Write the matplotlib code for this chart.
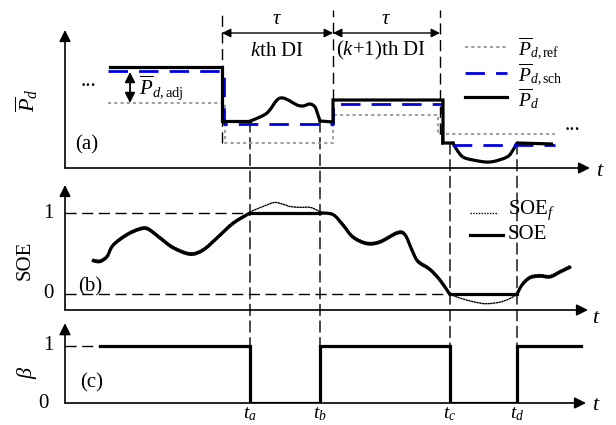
import matplotlib
matplotlib.use('Agg')
import matplotlib.pyplot as plt
from matplotlib.patches import ConnectionPatch, PathPatch
from matplotlib.path import Path

plt.rcParams['font.family'] = 'Liberation Serif'
plt.rcParams['mathtext.fontset'] = 'custom'
plt.rcParams['mathtext.rm'] = 'Liberation Serif'
plt.rcParams['mathtext.it'] = 'Liberation Serif:italic'
plt.rcParams['mathtext.bf'] = 'Liberation Serif:bold'

# ---- time marks ----
t_di = [15.7, 26.8, 37.5]          # DI boundaries
t_a, t_b, t_c, t_d = 18.5, 25.5, 38.5, 45.2
t_labels = [r'$t_a$', r'$t_b$', r'$t_c$', r'$t_d$']

# ---- panel (a): power ----
pd_t = [4.5, 15.7, 15.7, 18.5, 18.8, 20.2, 21.2, 21.8, 22.5, 23.2, 23.8, 24.5,
        25.0, 25.3, 25.5, 26.8, 26.8, 37.8, 37.8, 38.5, 38.8, 39.2, 39.8, 40.8,
        42.5, 44.2, 44.8, 45.2, 48.8]
pd_v = [10.1, 10.1, 4.7, 4.7, 4.8, 5.5, 6.8, 7.0, 6.7, 6.3, 6.2, 6.4,
        6.1, 5.3, 4.7, 4.6, 6.8, 6.8, 2.5, 2.5, 2.5, 1.8, 1.1, 0.8,
        0.6, 1.1, 1.8, 2.5, 2.4]
sch_t = [4.3, 15.9, 15.9, 26.8, 26.8, 37.7, 37.7, 49.0]
sch_v = [9.7, 9.7, 4.4, 4.4, 6.4, 6.4, 2.3, 2.3]
ref_t = [4.3, 16.0, 16.0, 26.8, 26.8, 37.3, 37.3, 49.0]
ref_v = [6.5, 6.5, 2.5, 2.5, 5.3, 5.3, 3.4, 3.4]

# ---- panel (b): SOE ----
soe_t = [2.8, 3.5, 4.2, 4.8, 6.2, 7.5, 8.3, 9.5, 10.8, 12.5, 13.8, 15.2, 16.8,
         18.5, 25.5, 26.8, 27.8, 28.8, 30.2, 31.5, 33.2, 34.0, 34.7, 35.3, 36.5,
         37.5, 38.4, 38.5, 45.2, 45.7, 46.5, 47.5, 48.5, 49.5, 50.5]
soe_v = [0.41, 0.40, 0.46, 0.60, 0.73, 0.80, 0.80, 0.69, 0.57, 0.49, 0.54, 0.69, 0.87,
         1.0, 1.0, 0.98, 0.85, 0.70, 0.62, 0.64, 0.75, 0.73, 0.54, 0.40, 0.30,
         0.17, 0.01, 0.0, 0.0, 0.11, 0.20, 0.22, 0.21, 0.27, 0.33]
soef_t = [2.8, 3.5, 4.2, 4.8, 6.2, 7.5, 8.3, 9.5, 10.8, 12.5, 13.8, 15.2, 16.8,
          18.5, 19.0, 20.0, 21.0, 22.0, 22.5, 23.5, 24.5, 25.3, 25.5, 26.8, 27.8,
          28.8, 30.2, 31.5, 33.2, 34.0, 34.7, 35.3, 36.5, 37.5, 38.4, 38.5, 39.5,
          41.0, 42.2, 43.8, 45.2, 45.7, 46.5, 47.5, 48.5, 49.5, 50.5]
soef_v = [0.43, 0.42, 0.48, 0.62, 0.75, 0.82, 0.82, 0.71, 0.59, 0.51, 0.56, 0.71, 0.89,
          1.01, 1.04, 1.09, 1.13, 1.10, 1.08, 1.07, 1.07, 1.03, 1.01, 0.99, 0.87,
          0.72, 0.64, 0.66, 0.77, 0.75, 0.56, 0.42, 0.32, 0.19, 0.03, 0.0, -0.05,
          -0.10, -0.12, -0.09, 0.0, 0.13, 0.22, 0.24, 0.23, 0.29, 0.35]

# ---- panel (c): beta ----
beta_t = [3.5, 18.5, 18.5, 25.5, 25.5, 38.5, 38.5, 45.2, 45.2, 51.6]
beta_v = [1, 1, 0, 0, 1, 1, 0, 0, 1, 1]


def smooth(ax, x, y, **kw):
    # Catmull-Rom through the read points, drawn as cubic Bezier pieces
    pts = list(zip(x, y))
    verts = [pts[0]]
    codes = [Path.MOVETO]
    for i in range(len(pts) - 1):
        p0 = pts[max(i - 1, 0)]
        p1 = pts[i]
        p2 = pts[i + 1]
        p3 = pts[min(i + 2, len(pts) - 1)]
        c1 = (p1[0] + (p2[0] - p0[0]) / 6, p1[1] + (p2[1] - p0[1]) / 6)
        c2 = (p2[0] - (p3[0] - p1[0]) / 6, p2[1] - (p3[1] - p1[1]) / 6)
        verts += [c1, c2, p2]
        codes += [Path.CURVE4] * 3
    patch = PathPatch(Path(verts, codes), fill=False, capstyle='round',
                      joinstyle='round', **kw)
    ax.add_patch(patch)


fig = plt.figure(figsize=(6.16, 4.25), dpi=100)
W, H = 616.0, 425.0
ax_a = fig.add_axes([65 / W, (H - 168) / H, 535 / W, 158 / H])
ax_b = fig.add_axes([65 / W, (H - 310) / H, 535 / W, 130 / H])
ax_c = fig.add_axes([65 / W, (H - 403) / H, 535 / W, 85 / H])

ax_a.set_ylim(0, 15.8)
ax_b.set_ylim(-16 / 81, (294 - 180) / 81)
ax_c.set_ylim(0, 85 / 57)
for ax in (ax_a, ax_b, ax_c):
    ax.set_xlim(0, 53.5)
    ax.axis('off')

arrow = dict(arrowstyle='-|>', color='k', lw=1.2, mutation_scale=17,
             shrinkA=0, shrinkB=0)
dash = (0, (8, 4))
fs = 15
thick = 2.3
blue = '#0000e6'
grey = '#a0a0a0'

# axes with arrows
y0b = -16 / 81
ax_a.annotate('', xy=(0, 13.8), xytext=(0, 0), arrowprops=arrow, annotation_clip=False)
ax_a.annotate('', xy=(52.5, 0), xytext=(0, 0), arrowprops=arrow, annotation_clip=False)
ax_a.text(53.5, -0.4, r'$t$', fontsize=fs + 1, ha='center', va='center')
ax_b.annotate('', xy=(0, 1.346), xytext=(0, y0b), arrowprops=arrow, annotation_clip=False)
ax_b.annotate('', xy=(52.3, y0b), xytext=(0, y0b), arrowprops=arrow, annotation_clip=False)
ax_b.text(53.1, y0b - 0.1, r'$t$', fontsize=fs + 1, ha='center', va='center')
ax_c.annotate('', xy=(0, 1.40), xytext=(0, 0), arrowprops=arrow, annotation_clip=False)
ax_c.annotate('', xy=(52.1, 0), xytext=(0, 0), arrowprops=arrow, annotation_clip=False)
ax_c.text(53.1, -0.05, r'$t$', fontsize=fs + 1, ha='center', va='center')

# panel (a)
ax_a.plot(ref_t, ref_v, color=grey, lw=1.5, ls=(0, (1.5, 1.5)))
ax_a.plot(sch_t, sch_v, color=blue, lw=2.0, ls=(0, (7, 4)))
ax_a.plot(pd_t[:4], pd_v[:4], color='k', lw=thick, solid_joinstyle='miter')
smooth(ax_a, pd_t[3:15], pd_v[3:15], color='k', lw=thick)
ax_a.plot(pd_t[14:21], pd_v[14:21], color='k', lw=thick, solid_joinstyle='miter')
smooth(ax_a, pd_t[20:28], pd_v[20:28], color='k', lw=thick)
ax_a.plot(pd_t[27:], pd_v[27:], color='k', lw=thick, solid_capstyle='butt')
tops = [2.5, 6.8, 3.4]
for t, yb in zip(t_di, tops):
    ax_a.plot([t, t], [yb, 15.8], color='k', lw=1, ls=dash, clip_on=False)
ann = dict(arrowstyle='<|-|>', color='k', lw=1, mutation_scale=13, shrinkA=0, shrinkB=0)
ax_a.annotate('', xy=(t_di[1], 13.5), xytext=(t_di[0], 13.5), arrowprops=ann)
ax_a.annotate('', xy=(t_di[2], 13.5), xytext=(t_di[1], 13.5), arrowprops=ann)
ax_a.text((t_di[0] + t_di[1]) / 2, 14.8, r'$\tau$', fontsize=fs, ha='center', va='center')
ax_a.text((t_di[1] + t_di[2]) / 2, 14.8, r'$\tau$', fontsize=fs, ha='center', va='center')
ax_a.text(21.2, 11.6, r'$k$th DI', fontsize=fs, ha='center', va='center')
ax_a.text(31.6, 11.8, r'($k$+1)th DI', fontsize=fs, ha='center', va='center')
ax_a.annotate('', xy=(6.5, 6.5), xytext=(6.5, 9.6),
              arrowprops=dict(arrowstyle='<|-|>', color='k', lw=1.3, mutation_scale=15,
                              shrinkA=0, shrinkB=0))
ax_a.text(7.4, 8.0, r'$\overline{P}_{d,\mathrm{adj}}$', fontsize=fs, ha='left', va='center')
ax_a.text(2.3, 8.2, '...', fontsize=fs, ha='center', va='baseline')
ax_a.text(50.8, 3.8, '...', fontsize=fs, ha='center', va='baseline')
ax_a.text(2.2, 2.3, '(a)', fontsize=fs, ha='center', va='center')
ax_a.text(-3.8, 6.8, r'$\overline{P}_d$', fontsize=fs + 1, ha='center', va='center', rotation=90)

# legend (a)
ax_a.plot([40.0, 44.2], [12.1, 12.1], color=grey, lw=1.5, ls=(0, (1.5, 1.5)))
ax_a.plot([40.0, 44.2], [9.5, 9.5], color=blue, lw=2.0, ls=(0, (7, 4)))
ax_a.plot([40.0, 44.2], [7.1, 7.1], color='k', lw=thick)
ax_a.text(45.3, 11.9, r'$\overline{P}_{d,\mathrm{ref}}$', fontsize=fs - 1, ha='left', va='center')
ax_a.text(45.3, 9.3, r'$\overline{P}_{d,\mathrm{sch}}$', fontsize=fs - 1, ha='left', va='center')
ax_a.text(45.3, 6.9, r'$\overline{P}_d$', fontsize=fs - 1, ha='left', va='center')

# panel (b)
ax_b.plot([0, t_b], [1, 1], color='k', lw=1, ls=dash)
ax_b.plot([0, t_d], [0, 0], color='k', lw=1, ls=dash)
smooth(ax_b, soef_t, soef_v, color='k', lw=1, ls=(0, (1, 1)))
smooth(ax_b, soe_t[:14], soe_v[:14], color='k', lw=thick)
ax_b.plot(soe_t[13:15], soe_v[13:15], color='k', lw=thick)
smooth(ax_b, soe_t[14:28], soe_v[14:28], color='k', lw=thick)
ax_b.plot(soe_t[27:29], soe_v[27:29], color='k', lw=thick)
smooth(ax_b, soe_t[28:], soe_v[28:], color='k', lw=thick)
ax_b.text(-1.7, 1, '1', fontsize=fs, ha='center', va='center')
ax_b.text(-1.7, 0, '0', fontsize=fs, ha='center', va='center')
ax_b.text(-4.0, 0.42, 'SOE', fontsize=fs, ha='center', va='center', rotation=90)
ax_b.text(2.5, 0.09, '(b)', fontsize=fs, ha='center', va='center')
ax_b.plot([40.5, 43.3], [1.0, 1.0], color='k', lw=1, ls=(0, (1, 1)))
ax_b.plot([40.5, 43.8], [0.73, 0.73], color='k', lw=thick)
ax_b.text(44.3, 1.04, r'SOE$_f$', fontsize=fs, ha='left', va='center')
ax_b.text(44.3, 0.73, 'SOE', fontsize=fs, ha='left', va='center')

# panel (c)
ax_c.plot([0, beta_t[0]], [1, 1], color='k', lw=1, ls=dash)
ax_c.plot(beta_t, beta_v, color='k', lw=thick, solid_joinstyle='miter')
ax_c.text(-1.7, 1, '1', fontsize=fs, ha='center', va='center')
ax_c.text(-2.2, 0, '0', fontsize=fs, ha='center', va='center')
ax_c.text(-3.8, 0.53, r'$\beta$', fontsize=fs + 1, ha='center', va='center', rotation=90)
ax_c.text(2.7, 0.35, '(c)', fontsize=fs, ha='center', va='center')
for t, lab in zip([t_a, t_b, t_c, t_d], t_labels):
    ax_c.text(t, -0.26, lab, fontsize=fs - 1, ha='center', va='baseline')

# guide lines through all panels
for t, ya in zip([t_a, t_b, t_c, t_d], [4.7, 4.7, 2.5, 2.5]):
    con = ConnectionPatch(xyA=(t, ya), coordsA=ax_a.transData,
                          xyB=(t, 1), coordsB=ax_c.transData,
                          color='k', lw=1, linestyle=dash, zorder=0)
    fig.add_artist(con)

fig.savefig('out.png', dpi=100)
